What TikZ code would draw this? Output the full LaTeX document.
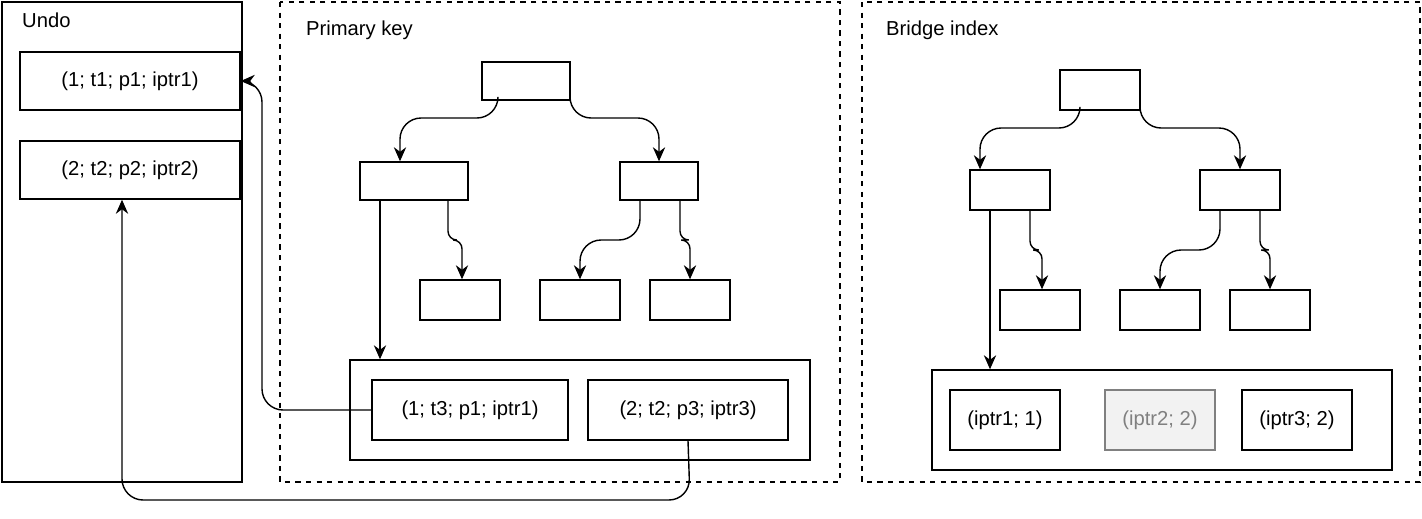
\documentclass[tikz,border=0pt]{standalone}
\usepackage{fontspec}
\setmainfont{Liberation Sans}
\usetikzlibrary{arrows.meta}
\begin{document}
\begin{tikzpicture}[x=0.02cm,y=-0.02cm,
    box/.style={draw, thick, inner sep=0pt, font=\fontsize{11.5}{13}\selectfont},
    area/.style={draw, thick, dashed},
    link/.style={thick, rounded corners=12, -{Stealth[length=8pt,width=7pt]}},
    jog/.style={link, rounded corners=5},
    ttl/.style={anchor=west, font=\fontsize{11.5}{13}\selectfont}
]
\useasboundingbox (0,0) rectangle (1422,518);

% undo log
\draw[thick] (2,2) rectangle (242,482);
\node[ttl] at (16,20) {Undo};
\node[box, minimum width=220*0.02cm, minimum height=58*0.02cm] (u1) at (130,81) {(1; t1; p1; iptr1)};
\node[box, minimum width=220*0.02cm, minimum height=58*0.02cm] (u2) at (130,170) {(2; t2; p2; iptr2)};

% primary key
\draw[area] (280,2) rectangle (840,482);
\node[ttl] at (300,30) {Primary key};
\node[box, minimum width=88*0.02cm, minimum height=38*0.02cm] (pr) at (526,81) {};
\node[box, minimum width=108*0.02cm, minimum height=38*0.02cm] (pa) at (414,181) {};
\node[box, minimum width=78*0.02cm, minimum height=38*0.02cm] (pb) at (659,181) {};
\node[box, minimum width=80*0.02cm, minimum height=40*0.02cm] (pl1) at (460,300) {};
\node[box, minimum width=80*0.02cm, minimum height=40*0.02cm] (pl2) at (580,300) {};
\node[box, minimum width=80*0.02cm, minimum height=40*0.02cm] (pl3) at (690,300) {};
\node[box, minimum width=460*0.02cm, minimum height=100*0.02cm] (pc) at (580,410) {};
\node[box, minimum width=196*0.02cm, minimum height=60*0.02cm] (pe1) at (470,410) {(1; t3; p1; iptr1)};
\node[box, minimum width=200*0.02cm, minimum height=60*0.02cm] (pe2) at (688,410) {(2; t2; p3; iptr3)};

\draw[link] (pr.south -| 498,0) -- (498,118) -- (400,118) -- (pa.north -| 400,0);
\draw[link] (pr.south -| 570,0) -- (570,118) -- (659,118) -- (pb.north);
\draw[link] (pa.south -| 380,0) -- (pc.north -| 380,0);
\draw[jog] (pa.south -| 448,0) -- (448,240) -- (462,240) -- (pl1.north -| 462,0);
\draw[link] (pb.south -| 640,0) -- (640,240) -- (580,240) -- (pl2.north);
\draw[jog] (pb.south -| 680,0) -- (680,240) -- (690,240) -- (pl3.north);

% bridge index
\draw[area] (862,2) rectangle (1420,482);
\node[ttl] at (880,30) {Bridge index};
\node[box, minimum width=80*0.02cm, minimum height=40*0.02cm] (br) at (1100,90) {};
\node[box, minimum width=80*0.02cm, minimum height=40*0.02cm] (ba) at (1010,190) {};
\node[box, minimum width=80*0.02cm, minimum height=40*0.02cm] (bb) at (1240,190) {};
\node[box, minimum width=80*0.02cm, minimum height=40*0.02cm] (bl1) at (1040,310) {};
\node[box, minimum width=80*0.02cm, minimum height=40*0.02cm] (bl2) at (1160,310) {};
\node[box, minimum width=80*0.02cm, minimum height=40*0.02cm] (bl3) at (1270,310) {};
\node[box, minimum width=460*0.02cm, minimum height=100*0.02cm] (bc) at (1162,420) {};
\node[box, minimum width=110*0.02cm, minimum height=60*0.02cm] (be1) at (1005,420) {(iptr1; 1)};
\node[box, draw=gray, fill=gray!10, text=gray, minimum width=110*0.02cm, minimum height=60*0.02cm] (be2) at (1160,420) {(iptr2; 2)};
\node[box, minimum width=110*0.02cm, minimum height=60*0.02cm] (be3) at (1297,420) {(iptr3; 2)};

\draw[link] (br.south -| 1080,0) -- (1080,128) -- (980,128) -- (ba.north -| 980,0);
\draw[link] (br.south -| 1140,0) -- (1140,128) -- (1240,128) -- (bb.north);
\draw[link] (ba.south -| 990,0) -- (bc.north -| 990,0);
\draw[jog] (ba.south -| 1030,0) -- (1030,250) -- (1042,250) -- (bl1.north -| 1042,0);
\draw[link] (bb.south -| 1220,0) -- (1220,250) -- (1160,250) -- (bl2.north);
\draw[jog] (bb.south -| 1260,0) -- (1260,250) -- (1270,250) -- (bl3.north);

% pointers to undo
\draw[link] (pe1.west) -- (262,410) -- (262,81) -- (u1.east);
\draw[link] (pe2.south) -- (690,500) -- (122,500) -- (u2.south -| 122,0);
\end{tikzpicture}
\end{document}
